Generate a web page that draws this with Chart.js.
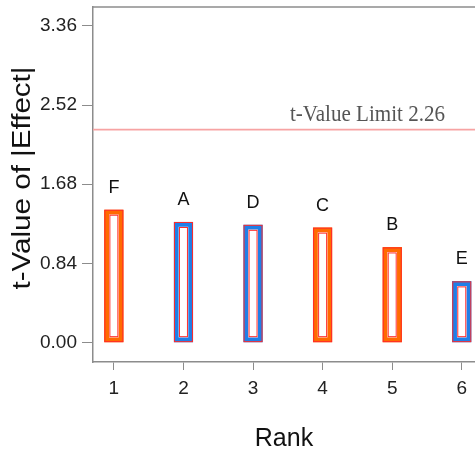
<!DOCTYPE html>
<html>
<head>
<meta charset="utf-8">
<script src="https://cdn.jsdelivr.net/npm/chart.js@4.4.1/dist/chart.umd.min.js"></script>
<style>
  html, body { margin: 0; padding: 0; background: #fff; }
  #wrap { position: relative; width: 475px; height: 451px; }
</style>
</head>
<body>
<div id="wrap"><canvas id="c"></canvas></div>
<script>
// data
const ranks = [1, 2, 3, 4, 5, 6];
const effects = ["F", "A", "D", "C", "B", "E"];
const tValues = [1.41, 1.28, 1.25, 1.22, 1.01, 0.65];
const positive = [true, false, false, true, true, false];
const yTicks = [0, 0.84, 1.68, 2.52, 3.36];
const tLimit = 2.26;

const ORANGE = "#ff6a00";
const BLUE = "#1f7fe8";
const OUTLINE = "#ff2a2a";
const AXIS = "#8c8c8c";
const X_MIN = 0.7, X_MAX = 6.19;
const TICK_FONT = "'Liberation Sans Narrow', 'Arial Narrow', Arial, sans-serif";
const SANS = "'Liberation Sans', Arial, sans-serif";

const barPoints = ranks.map((r, i) => ({ x: r, y: tValues[i] }));

// draws text squeezed/stretched to a given width
function fitText(ctx, text, x, y, width, angle) {
  const w = ctx.measureText(text).width;
  ctx.save();
  ctx.translate(x, y);
  if (angle) ctx.rotate(angle);
  ctx.scale(width / w, 1);
  ctx.fillText(text, 0, 0);
  ctx.restore();
}

const decorPlugin = {
  id: "decor",
  afterDatasetsDraw(chart) {
    const ctx = chart.ctx;
    const area = chart.chartArea;
    const meta = chart.getDatasetMeta(1);
    ctx.save();
    // thin red outline around each bar, outside and inside the thick border
    ctx.strokeStyle = OUTLINE;
    ctx.lineWidth = 1;
    meta.data.forEach((bar) => {
      const p = bar.getProps(["x", "y", "base", "width"], true);
      const l = p.x - p.width / 2, r = p.x + p.width / 2;
      ctx.strokeRect(l + 0.5, p.y + 0.5, r - l - 1, p.base - p.y - 1);
      ctx.strokeRect(l + 5.5, p.y + 5.5, r - l - 11, p.base - p.y - 11);
    });
    // effect letters
    ctx.fillStyle = "#111";
    ctx.font = "18px " + SANS;
    ctx.textAlign = "center";
    ctx.textBaseline = "middle";
    meta.data.forEach((bar, i) => {
      ctx.fillText(effects[i], bar.x, bar.y - 22);
    });
    // limit label
    const ly = chart.scales.y.getPixelForValue(tLimit);
    ctx.fillStyle = "#555";
    ctx.font = "23px 'Liberation Serif', 'Times New Roman', serif";
    ctx.textAlign = "left";
    ctx.textBaseline = "alphabetic";
    fitText(ctx, "t-Value Limit " + tLimit.toFixed(2), 290, ly - 9, 155, 0);
    // y axis title
    ctx.fillStyle = "#111";
    ctx.font = "25px " + SANS;
    ctx.textAlign = "center";
    ctx.textBaseline = "middle";
    fitText(ctx, "t-Value of |Effect|", 23, 178, 223, -Math.PI / 2);
    ctx.restore();
    // top frame line
    ctx.save();
    ctx.strokeStyle = AXIS;
    ctx.lineWidth = 1.5;
    ctx.beginPath();
    ctx.moveTo(area.left, area.top);
    ctx.lineTo(area.right, area.top);
    ctx.stroke();
    ctx.restore();
  },
};

new Chart(document.getElementById("c"), {
  type: "bar",
  data: {
    datasets: [
      {
        type: "line",
        data: [{ x: X_MIN, y: tLimit }, { x: X_MAX, y: tLimit }],
        borderColor: "#f7a3a3",
        borderWidth: 1.6,
        pointRadius: 0,
        order: 2,
      },
      {
        type: "bar",
        data: barPoints,
        backgroundColor: "#ffffff",
        borderColor: positive.map((p) => (p ? ORANGE : BLUE)),
        borderWidth: 5,
        borderSkipped: false,
        barThickness: 19,
        order: 1,
      },
    ],
  },
  plugins: [decorPlugin],
  options: {
    responsive: true,
    maintainAspectRatio: false,
    animation: false,
    layout: { padding: { top: 7, right: 0, left: 0, bottom: 0 } },
    plugins: { legend: { display: false }, tooltip: { enabled: false } },
    scales: {
      x: {
        type: "linear",
        min: X_MIN,
        max: X_MAX,
        offset: false,
        afterBuildTicks: (s) => { s.ticks = ranks.map((v) => ({ value: v })); },
        afterFit: (s) => { s.height = 89; s.paddingLeft = 0; s.paddingRight = 0; },
        ticks: {
          color: "#222",
          font: { size: 19, family: TICK_FONT },
          padding: 7,
          maxRotation: 0,
          callback: (v) => String(v),
        },
        grid: { offset: false, drawOnChartArea: false, drawTicks: true, tickLength: 8, color: AXIS },
        border: { color: AXIS, width: 1.5 },
        title: {
          display: true,
          text: "Rank",
          color: "#111",
          font: { size: 25, family: SANS },
          padding: { top: 0, bottom: -3 },
        },
      },
      y: {
        min: -0.205,
        max: 3.56,
        afterBuildTicks: (s) => { s.ticks = yTicks.map((v) => ({ value: v })); },
        afterFit: (s) => { s.width = 93; s.paddingTop = 0; s.paddingBottom = 0; },
        ticks: {
          color: "#222",
          font: { size: 19, family: TICK_FONT },
          padding: 5,
          callback: (v) => Number(v).toFixed(2),
        },
        grid: { drawOnChartArea: false, drawTicks: true, tickLength: 11, color: AXIS },
        border: { color: AXIS, width: 1.5 },
      },
    },
  },
});
</script>
</body>
</html>
